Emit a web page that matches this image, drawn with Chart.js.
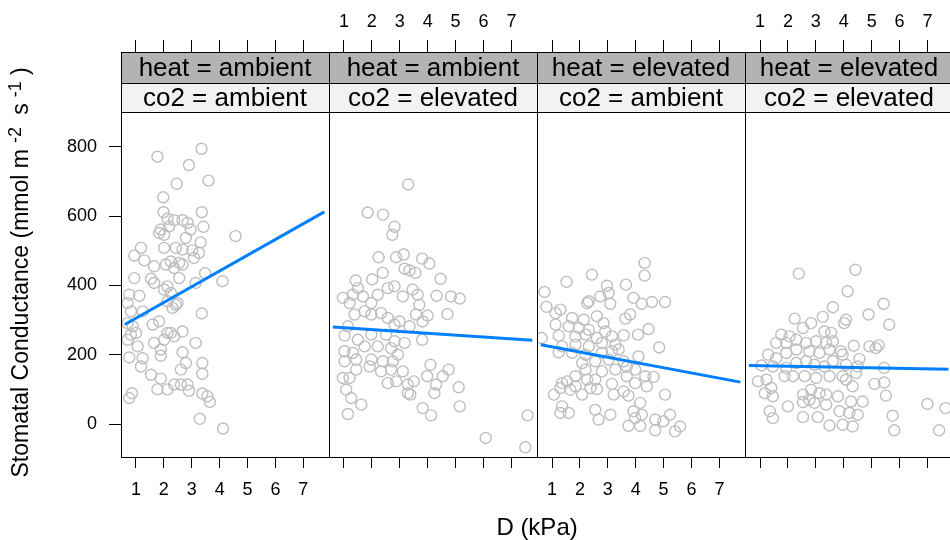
<!DOCTYPE html>
<html>
<head>
<meta charset="utf-8">
<script src="https://cdn.jsdelivr.net/npm/chart.js@4"></script>
<style>
html,body{margin:0;padding:0;background:#fff;overflow:hidden;width:950px;height:540px}
#wrap{position:relative;width:960px;height:540px}
canvas{display:block}
</style>
</head>
<body>
<div id="wrap"><canvas id="c" width="960" height="540"></canvas></div>
<script>
// ---- data ----
const heatLabels = ['heat = ambient', 'heat = ambient', 'heat = elevated', 'heat = elevated'];
const co2Labels  = ['co2 = ambient', 'co2 = elevated', 'co2 = ambient', 'co2 = elevated'];
const xTitle = 'D (kPa)';
// y title pieces: [text, isSuperscript]
const yTitleParts = [['Stomatal Conductance (mmol m', false], ['-2', true], [' s', false], ['-1', true], [')', false]];
const xTicks = [1, 2, 3, 4, 5, 6, 7];
const yTicks = [0, 200, 400, 600, 800];

const p1x = [3.35,1.77,2.90,3.60,2.46,1.98,3.36,1.99,2.13,2.37,2.67,2.85,2.19,1.89,2.96,1.83,2.01,2.79,3.42,4.57,3.32,1.18,0.94,2.01,2.43,2.67,3.02,3.26,1.30,1.65,2.25,2.55,2.07,2.37,2.67,3.08,3.48,4.10,0.94,1.54,1.65,2.13,2.55,3.14,2.25,2.01,0.76,1.12,0.70,0.82,1.24,2.13,2.43,2.31,2.49,3.36,0.70,0.88,1.60,1.83,0.82,1.00,2.25,2.67,2.01,1.65,0.70,3.14,2.37,2.13,1.06,1.89,2.67,0.76,1.24,1.89,2.79,1.18,3.38,2.61,3.38,1.54,1.89,1.77,2.13,2.37,2.61,2.85,2.90,3.38,3.56,3.65,0.86,0.76,3.29,4.12];
const p1y = [794,771,747,702,693,654,611,611,592,588,588,580,570,561,561,551,546,537,569,542,524,508,486,508,508,503,501,494,472,455,469,465,460,450,460,479,435,412,421,419,407,397,421,407,378,388,373,370,349,325,325,354,344,335,349,319,291,282,287,296,258,263,263,267,243,234,243,234,253,263,224,215,207,192,190,197,176,166,176,157,145,142,131,100,100,114,114,114,96,88,80,64,89,75,15,-13];

const p2x = [3.30,1.85,2.40,2.81,2.73,2.24,2.87,3.14,3.17,3.35,3.56,3.80,4.06,4.46,1.42,2.01,2.39,1.50,0.96,1.20,1.32,1.68,1.98,2.21,2.57,2.81,3.11,3.46,3.64,4.32,4.83,5.15,3.70,4.71,4.00,3.82,3.58,1.38,1.74,1.98,2.33,2.57,2.81,2.99,3.35,1.14,1.02,1.98,2.51,2.81,3.17,3.80,1.50,1.02,1.32,1.74,2.21,2.69,2.93,1.02,1.44,1.98,2.39,2.75,1.44,1.92,2.33,2.69,3.11,4.10,4.75,3.98,4.54,3.50,3.29,2.87,2.57,0.96,1.20,3.29,3.38,4.24,4.30,5.11,1.08,1.26,1.62,5.15,3.82,4.12,1.14,6.08,7.50,7.58];
const p2y = [691,610,604,569,546,481,481,489,448,443,436,477,463,419,414,417,436,392,364,349,373,368,349,373,392,397,368,388,373,370,368,362,344,317,313,296,316,316,325,316,320,306,287,296,282,282,255,258,258,239,234,243,243,210,205,224,224,219,200,181,186,186,181,181,157,166,152,157,152,171,157,138,138,123,114,123,118,133,133,89,85,89,114,106,99,75,56,51,46,25,29,-40,-67,25];

const p3x = [4.32,4.32,2.43,1.52,0.73,2.97,3.03,3.65,2.73,2.32,2.26,3.92,3.09,4.22,4.58,5.05,0.80,1.30,1.13,1.72,2.14,2.61,3.80,3.63,1.13,1.60,1.96,2.32,2.85,2.91,4.46,0.63,1.24,1.84,2.20,2.61,3.15,3.57,4.08,1.36,1.84,2.32,2.79,3.27,4.84,1.24,1.72,2.20,2.79,3.15,3.39,4.10,2.08,2.55,3.03,3.57,2.20,2.79,3.27,3.68,3.98,1.84,2.26,2.55,3.68,4.34,4.64,3.98,1.36,1.54,1.30,1.66,1.84,2.38,2.61,3.15,3.21,3.57,3.74,4.40,5.05,1.07,2.08,4.16,1.36,1.60,1.30,2.55,2.67,3.09,3.92,4.22,3.98,3.74,4.16,4.70,4.70,4.99,5.23,5.41,5.59];
const p3y = [465,428,431,410,381,399,378,402,368,354,349,364,347,347,352,352,338,330,320,306,301,311,316,304,287,282,277,272,291,267,274,248,255,253,258,248,253,256,258,224,229,224,234,229,221,207,205,200,205,210,215,195,176,181,186,181,157,152,157,165,157,138,128,128,138,138,136,118,118,123,104,99,109,104,101,116,85,94,82,109,85,85,85,61,51,32,32,41,13,27,37,27,17,-5,-5,13,-18,8,27,-21,-7];

const p4x = [2.39,4.42,4.14,3.61,5.43,4.89,5.63,4.08,4.02,3.25,2.24,2.83,2.54,3.31,3.55,1.76,2.06,1.58,1.94,2.30,2.65,3.01,3.37,3.61,4.36,4.92,5.25,5.15,1.29,1.58,1.94,2.30,2.77,3.13,3.49,3.90,3.96,4.56,1.05,1.46,1.94,2.30,2.65,2.95,3.31,3.61,4.08,4.50,5.45,0.93,1.23,1.40,1.17,1.46,1.88,2.18,2.60,3.01,3.49,3.96,4.44,4.08,4.32,5.10,5.45,5.51,2.83,3.13,3.37,2.54,2.77,2.00,2.54,2.95,3.37,3.79,4.26,4.68,3.85,4.20,4.50,3.96,4.32,3.49,3.07,2.54,1.35,1.46,5.75,5.81,7.00,7.65,7.42];
const p4y = [434,445,383,337,347,316,287,301,291,309,304,291,277,267,263,258,253,234,234,243,234,239,234,239,226,224,227,219,200,190,205,215,210,205,215,210,200,188,169,166,162,176,181,171,166,181,171,166,162,123,128,104,89,80,138,138,138,133,138,138,147,128,109,116,120,82,99,89,85,85,70,51,63,61,56,80,65,65,37,32,27,-2,-7,-4,20,20,37,17,24,-18,58,46,-18];

// fitted regression lines (endpoints) per panel
const fitX  = [0.6, 7.75];
const fit1Y = [287, 612];
const fit2Y = [280, 242];
const fit3Y = [229, 121];
const fit4Y = [169, 158];

// ---- chart ----
const FONT = "'Liberation Sans', Arial, Helvetica, sans-serif";
const X_MIN = 0.464, X_MAX = 7.92, Y_MIN = -95, Y_MAX = 900;
const POINT_COL = '#BEBEBE', LINE_COL = '#0080FF';

const panelsX = [p1x, p2x, p3x, p4x];
const panelsY = [p1y, p2y, p3y, p4y];
const fitsY = [fit1Y, fit2Y, fit3Y, fit4Y];

const datasets = [];
for (let i = 0; i < 4; i++) {
  datasets.push({
    type: 'scatter',
    data: panelsX[i].map((x, k) => ({x: x, y: panelsY[i][k]})),
    xAxisID: 'xb' + (i + 1), yAxisID: 'y',
    pointRadius: 5.5, pointHoverRadius: 5.5, pointBorderWidth: 1.4,
    pointBorderColor: POINT_COL, pointBackgroundColor: 'rgba(0,0,0,0)',
    showLine: false, order: 2
  });
  datasets.push({
    type: 'scatter',
    data: fitX.map((x, k) => ({x: x, y: fitsY[i][k]})),
    xAxisID: 'xb' + (i + 1), yAxisID: 'y',
    showLine: true, borderColor: LINE_COL, borderWidth: 3,
    pointRadius: 0, pointHoverRadius: 0, order: 1
  });
}

function xAxis(pos, showLabels) {
  const bottom = pos === 'bottom';
  return {
    type: 'linear', position: pos, stack: bottom ? 'pb' : 'pt', stackWeight: 1,
    min: X_MIN, max: X_MAX,
    afterBuildTicks: s => { s.ticks = xTicks.map(v => ({value: v})); },
    afterFit: s => { s.height = bottom ? 53 : 52; s.paddingLeft = 0; s.paddingRight = 0; },
    grid: {display: true, drawOnChartArea: false, drawTicks: true,
           tickLength: bottom ? 11 : 12, tickColor: '#000', tickWidth: 1},
    border: {display: false},
    ticks: {display: showLabels, color: '#000', font: {family: FONT, size: 18},
            padding: bottom ? 11 : 7, maxRotation: 0, autoSkip: false}
  };
}

const scales = {
  y: {
    type: 'linear', position: 'left', stack: 'v', stackWeight: 345,
    min: Y_MIN, max: Y_MAX,
    afterBuildTicks: s => { s.ticks = yTicks.map(v => ({value: v})); },
    afterFit: s => { s.width = 121; s.paddingTop = 0; s.paddingBottom = 0; },
    grid: {display: true, drawOnChartArea: false, tickLength: 12, tickColor: '#000', tickWidth: 1},
    border: {display: false},
    ticks: {color: '#000', font: {family: FONT, size: 18}, padding: 12}
  },
  ys: {
    type: 'linear', position: 'left', stack: 'v', stackWeight: 60, min: 0, max: 2,
    afterFit: s => { s.width = 121; },
    grid: {display: false}, border: {display: false}, ticks: {display: false}
  },
  xb1: xAxis('bottom', true),
  xb2: xAxis('bottom', false),
  xb3: xAxis('bottom', true),
  xb4: xAxis('bottom', false),
  xt4: xAxis('top', true),
  xt3: xAxis('top', false),
  xt2: xAxis('top', true),
  xt1: xAxis('top', false)
};

const stripPlugin = {
  id: 'strips',
  afterDraw(chart) {
    const ctx = chart.ctx;
    const ys = chart.scales.ys, y = chart.scales.y;
    const top = Math.round(ys.top), bot = Math.round(y.top), pb = Math.round(y.bottom);
    const mid = Math.round((top + bot) / 2) + 1;
    ctx.save();
    ctx.lineWidth = 1;
    ctx.strokeStyle = '#000';
    for (let i = 0; i < 4; i++) {
      const xs = chart.scales['xb' + (i + 1)];
      const L = Math.round(xs.left), R = Math.round(xs.right);
      ctx.fillStyle = '#B3B3B3';
      ctx.fillRect(L, top, R - L, mid - top);
      ctx.fillStyle = '#F2F2F2';
      ctx.fillRect(L, mid, R - L, bot - mid);
      ctx.strokeRect(L + 0.5, top + 0.5, R - L, mid - top);
      ctx.strokeRect(L + 0.5, mid + 0.5, R - L, bot - mid);
      ctx.strokeRect(L + 0.5, bot + 0.5, R - L, pb - bot);
      ctx.fillStyle = '#000';
      ctx.font = '26px ' + FONT;
      ctx.textAlign = 'center';
      ctx.textBaseline = 'middle';
      ctx.fillText(heatLabels[i], (L + R) / 2, (top + mid) / 2 + 1);
      ctx.fillText(co2Labels[i], (L + R) / 2, (mid + bot) / 2 + 1);
    }
    // y-axis title with superscripts
    const parts = yTitleParts.map(([t, sup]) => {
      ctx.font = (sup ? '18px ' : '23px ') + FONT;
      return {t, sup, w: ctx.measureText(t).width, gap: sup ? 6 : 0};
    });
    const total = parts.reduce((a, p) => a + p.w + 2 * p.gap, 0);
    const cy = (y.top + y.bottom) / 2 - 12;
    ctx.translate(28, cy + total / 2);
    ctx.rotate(-Math.PI / 2);
    ctx.textAlign = 'left';
    ctx.textBaseline = 'alphabetic';
    let pos = 0;
    for (const p of parts) {
      ctx.font = (p.sup ? '18px ' : '23px ') + FONT;
      pos += p.gap;
      ctx.fillText(p.t, pos, p.sup ? -7 : 0);
      pos += p.w + p.gap;
    }
    ctx.restore();
  }
};

new Chart(document.getElementById('c'), {
  type: 'scatter',
  data: {datasets: datasets},
  options: {
    responsive: false, animation: false, events: [],
    layout: {padding: {left: 0, right: 4, top: 0, bottom: 0}},
    scales: scales,
    plugins: {
      legend: {display: false},
      tooltip: {enabled: false},
      title: {display: true, position: 'bottom', fullSize: false, text: xTitle,
              color: '#000', font: {family: FONT, size: 24, weight: 'normal', lineHeight: 1},
              padding: {top: 6, bottom: 0}}
    }
  },
  plugins: [stripPlugin]
});
</script>
</body>
</html>
